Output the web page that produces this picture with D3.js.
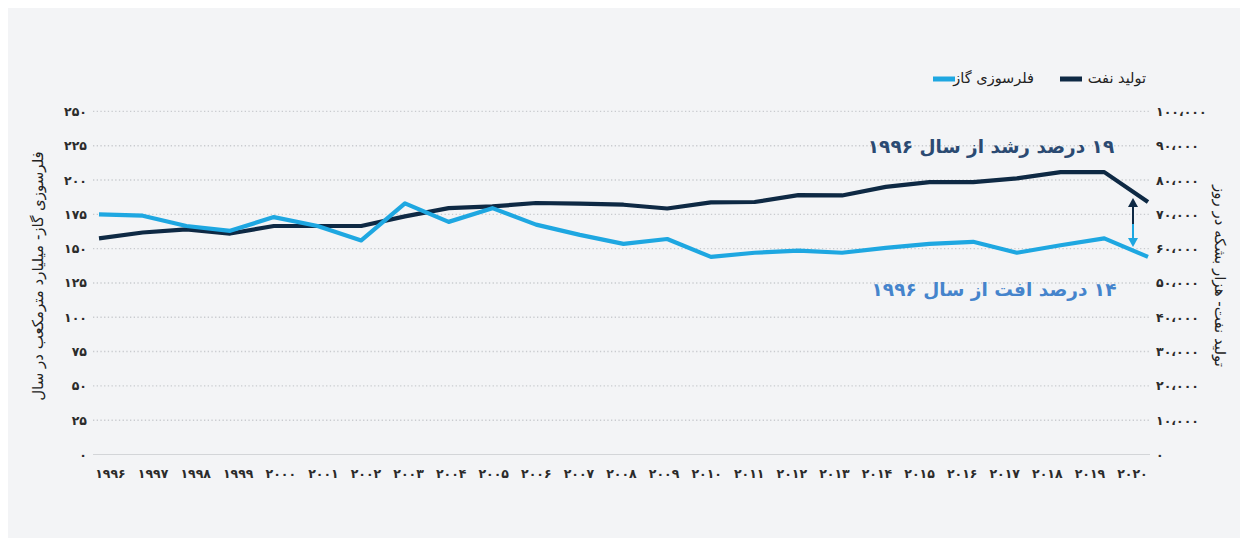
<!DOCTYPE html>
<html><head><meta charset="utf-8">
<script src="https://cdn.jsdelivr.net/npm/d3@7"></script>
<style>
html,body{margin:0;padding:0;background:#ffffff;}
svg{display:block;font-family:"DejaVu Sans",sans-serif;}
</style></head>
<body>
<svg id="chart" width="1248" height="546"></svg>
<script>
// ---- data ----
const years = [1996,1997,1998,1999,2000,2001,2002,2003,2004,2005,2006,2007,2008,2009,2010,2011,2012,2013,2014,2015,2016,2017,2018,2019,2020];
// gas flaring, billion cubic metres per year (left axis)
const gasFlaring = [175,174,166.5,163,173,166.5,156,183,169.5,179.5,167.5,160,153.5,157,144,147,148.5,147,150.5,153.5,155,147,152.5,157.5,144];
// oil production, thousand barrels per day (right axis)
const oilProduction = [63000,64700,65600,64400,66600,66600,66600,69400,71800,72300,73300,73100,72800,71700,73500,73600,75600,75500,78000,79400,79400,80500,82300,82300,73600];
const leftTicks = [0,25,50,75,100,125,150,175,200,225,250];
const rightTicks = [0,10000,20000,30000,40000,50000,60000,70000,80000,90000,100000];
const seriesNames = ["تولید نفت","فلرسوزی گاز"];
const leftTitle = "فلرسوزی گاز- میلیارد مترمکعب در سال";
const rightTitle = "تولید نفت- هزار بشکه در روز";
const noteUp = "۱۹ درصد رشد از سال ۱۹۹۶";
const noteDown = "۱۴ درصد افت از سال ۱۹۹۶";

// ---- helpers ----
const faDigits = "۰۱۲۳۴۵۶۷۸۹";
const fa = s => String(s).replace(/\d/g, d => faDigits[+d]);
const faThousands = v => fa(d3.format(",")(v).replace(/,/g, "،"));

const colOil = "#0e2944", colGas = "#1ea7e1";
const svg = d3.select("#chart");

// panel background
svg.append("rect").attr("x",8).attr("y",8).attr("width",1232).attr("height",530).attr("fill","#f3f4f6");

const x0 = 93, x1 = 1150, yTop = 111.4, yBot = 454.5;
const xLine = d3.scalePoint().domain(years).range([99,1148]);
const xLab = d3.scalePoint().domain(years).range([110,1132]);
const yL = d3.scaleLinear().domain([0,250]).range([yBot,yTop]);
const yR = d3.scaleLinear().domain([0,100000]).range([yBot,yTop]);

// gridlines
svg.append("g").selectAll("line").data(leftTicks.filter(d=>d>0)).join("line")
  .attr("x1",x0).attr("x2",x1).attr("y1",d=>yL(d)).attr("y2",d=>yL(d))
  .attr("stroke","#c9cbcf").attr("stroke-width",1.4).attr("stroke-dasharray","1.3,2.4");
svg.append("line").attr("x1",x0).attr("x2",x1).attr("y1",yBot).attr("y2",yBot)
  .attr("stroke","#d3d5d8").attr("stroke-width",1.2);

// axes
const axL = svg.append("g").attr("transform",`translate(${x0},0)`)
  .call(d3.axisLeft(yL).tickValues(leftTicks).tickFormat(fa).tickSize(0).tickPadding(6));
const axR = svg.append("g").attr("transform",`translate(${x1},0)`)
  .call(d3.axisRight(yR).tickValues(rightTicks).tickFormat(faThousands).tickSize(0).tickPadding(6));
const axB = svg.append("g").attr("transform",`translate(0,${yBot})`)
  .call(d3.axisBottom(xLab).tickFormat(fa).tickSize(0).tickPadding(15));
[axL,axR,axB].forEach(a=>{
  a.select(".domain").remove();
  a.selectAll("text").attr("font-family","DejaVu Sans").attr("font-size",12.5)
   .attr("font-weight","bold").attr("fill","#2b2b2b");
});

// axis titles
svg.append("text").attr("transform","translate(38,276) rotate(-90)")
  .attr("text-anchor","middle").attr("direction","rtl").attr("dominant-baseline","middle")
  .attr("font-size",15).attr("fill","#222").text(leftTitle);
svg.append("text").attr("transform","translate(1219,276) rotate(90)")
  .attr("text-anchor","middle").attr("direction","rtl").attr("dominant-baseline","middle")
  .attr("font-size",15).attr("fill","#222").text(rightTitle);

// lines
const lineOil = d3.line().x((d,i)=>xLine(years[i])).y(d=>yR(d));
const lineGas = d3.line().x((d,i)=>xLine(years[i])).y(d=>yL(d));
svg.append("path").datum(oilProduction).attr("d",lineOil).attr("fill","none")
  .attr("stroke",colOil).attr("stroke-width",4.2).attr("stroke-linejoin","round");
svg.append("path").datum(gasFlaring).attr("d",lineGas).attr("fill","none")
  .attr("stroke",colGas).attr("stroke-width",4.2).attr("stroke-linejoin","round");

// legend
const leg = svg.append("g");
leg.append("line").attr("x1",1060).attr("x2",1082).attr("y1",79).attr("y2",79).attr("stroke",colOil).attr("stroke-width",5);
leg.append("text").attr("x",1146).attr("y",79).attr("text-anchor","end").attr("dominant-baseline","middle")
  .attr("font-size",14.5).attr("fill","#222").text(seriesNames[0]);
leg.append("line").attr("x1",933).attr("x2",955).attr("y1",79).attr("y2",79).attr("stroke",colGas).attr("stroke-width",5);
leg.append("text").attr("x",1034).attr("y",79).attr("text-anchor","end").attr("dominant-baseline","middle")
  .attr("font-size",14.5).attr("fill","#222").text(seriesNames[1]);

// annotations
svg.append("text").attr("x",991).attr("y",148).attr("text-anchor","middle").attr("direction","rtl")
  .attr("dominant-baseline","middle").attr("font-size",18.5).attr("font-weight","bold")
  .attr("fill","#2b4a72").text(noteUp);
svg.append("text").attr("x",994).attr("y",291).attr("text-anchor","middle").attr("direction","rtl")
  .attr("dominant-baseline","middle").attr("font-size",18.5).attr("font-weight","bold")
  .attr("fill","#4584cc").text(noteDown);

// double arrow between the two series at the end
const ax = 1133, aTop = 198, aBot = 247, aMid = 224;
svg.append("line").attr("x1",ax).attr("x2",ax).attr("y1",aTop+6).attr("y2",aMid).attr("stroke",colOil).attr("stroke-width",2);
svg.append("line").attr("x1",ax).attr("x2",ax).attr("y1",aMid).attr("y2",aBot-6).attr("stroke",colGas).attr("stroke-width",2);
svg.append("path").attr("d",`M${ax},${aTop} L${ax-5},${aTop+9} L${ax+5},${aTop+9} Z`).attr("fill",colOil);
svg.append("path").attr("d",`M${ax},${aBot} L${ax-5},${aBot-9} L${ax+5},${aBot-9} Z`).attr("fill",colGas);
</script>
</body></html>
